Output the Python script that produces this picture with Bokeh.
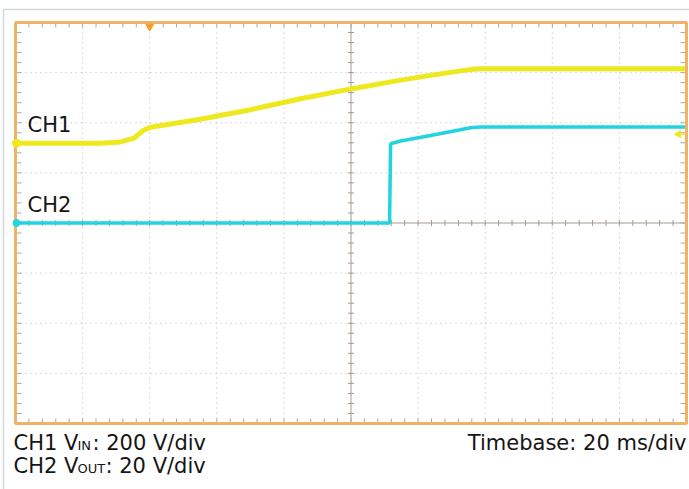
import numpy as np
from bokeh.plotting import figure
from bokeh.models import Label, Range1d
from bokeh.embed import file_html
from bokeh.resources import INLINE

# ---- data read from the scope capture ----
ch1_time_ms = [0, 25.3, 31.3, 35.2, 38.2, 40.2, 55.1, 70.0, 85.0, 100.4, 114.8, 123.7, 132.6, 135.6, 138.6, 200]
ch1_volts = [0, 0, 5.6, 20, 52, 64, 96, 134, 178, 218, 252, 271, 289, 294, 297, 297]
ch2_time_ms = [0, 111.5, 111.8, 114.8, 123.7, 132.6, 135.6, 138.6, 200]
ch2_volts = [0, 0, 31.6, 32.7, 34.9, 37.2, 38.0, 38.3, 38.3]

ch1_v_per_div = 200
ch2_v_per_div = 20
timebase_ms_per_div = 20
n_xdiv = 10
n_ydiv = 8
ch1_offset_div = 1.59
ch2_offset_div = 0.0
trigger_time_ms = 40
trigger_level_v = 36

YELLOW = "#eee81e"
CYAN = "#22d3e2"
ORANGE = "#efb367"
FONT = "DejaVu Sans"

# ---- canvas geometry (px) ----
W, H = 689, 489
SC_L, SC_R, SC_T, SC_B = 15, 686, 22, 423  # graticule box inside canvas
t_end = timebase_ms_per_div * n_xdiv
ppx = (SC_R - SC_L) / t_end          # px per ms
ppy = (SC_B - SC_T) / n_ydiv         # px per div
x0 = -SC_L / ppx
x1 = t_end + (W - SC_R) / ppx
y1 = n_ydiv / 2 + SC_T / ppy
y0 = -n_ydiv / 2 - (H - SC_B) / ppy

def cx(px_):
    return x0 + px_ / ppx

def cy(py_):
    return y1 - py_ / ppy

ch1_y = [ch1_offset_div + v / ch1_v_per_div for v in ch1_volts]
ch2_y = [ch2_offset_div + v / ch2_v_per_div for v in ch2_volts]

p = figure(width=W, height=H, x_range=Range1d(x0, x1), y_range=Range1d(y0, y1),
           output_backend="svg", toolbar_location=None,
           x_axis_location=None, y_axis_location=None, min_border=0)
p.min_border_left = p.min_border_right = p.min_border_top = p.min_border_bottom = 0
for g in p.grid:
    g.visible = False
p.outline_line_color = None
p.background_fill_color = "white"
p.border_fill_color = "white"

# bezel line
p.segment(x0=[cx(3), cx(3)], y0=[cy(9), cy(9)], x1=[cx(3), x1], y1=[y0, cy(9)],
          line_color="#cfd7df", line_width=1.5)

# dotted graticule
major_x = [timebase_ms_per_div * i for i in range(1, n_xdiv) if i != n_xdiv // 2]
major_y = [i for i in range(-n_ydiv // 2 + 1, n_ydiv // 2) if i != 0]
p.segment(x0=major_x, y0=-4, x1=major_x, y1=4, line_color="#b5b5b5", line_width=1, line_dash="1 4")
p.segment(x0=0, y0=major_y, x1=t_end, y1=major_y, line_color="#b5b5b5", line_width=1, line_dash="1 4")

# center cross with minor ticks
TICK = "#a39a92"
p.segment(x0=[t_end / 2, 0], y0=[-4, 0], x1=[t_end / 2, t_end], y1=[4, 0], line_color=TICK, line_width=1)
minor_x = np.arange(0, t_end + 0.01, timebase_ms_per_div / 5)
minor_y = np.arange(-4, 4.01, 0.2)
p.segment(x0=minor_x, y0=-3 / ppy, x1=minor_x, y1=3 / ppy, line_color=TICK)
p.segment(x0=t_end / 2 - 3 / ppx, y0=minor_y, x1=t_end / 2 + 3 / ppx, y1=minor_y, line_color=TICK)
# border ticks
p.segment(x0=minor_x, y0=4, x1=minor_x, y1=4 - 5 / ppy, line_color="#a8a8a8")
p.segment(x0=minor_x, y0=-4, x1=minor_x, y1=-4 + 5 / ppy, line_color="#a8a8a8")
p.segment(x0=0, y0=minor_y, x1=6 / ppx, y1=minor_y, line_color="#a8a8a8")
p.segment(x0=t_end, y0=minor_y, x1=t_end - 6 / ppx, y1=minor_y, line_color="#a8a8a8")

# traces
p.line(ch2_time_ms, ch2_y, line_color=CYAN, line_width=3.5)
p.line(ch1_time_ms, ch1_y, line_color=YELLOW, line_width=5)

# graticule frame
p.quad(left=[0], right=[t_end], bottom=[-4], top=[4], fill_color=None,
       line_color=ORANGE, line_width=3)

# markers
p.scatter(x=[1 / ppx], y=[ch1_offset_div], marker="circle", size=8, color=YELLOW)
p.scatter(x=[1 / ppx], y=[ch2_offset_div], marker="circle", size=7, color=CYAN)
p.scatter(x=[trigger_time_ms], y=[4 - 4 / ppy], marker="inverted_triangle", size=8, color="#f59c25")
lvl = ch1_offset_div + trigger_level_v / ch1_v_per_div
p.segment(x0=[t_end - 7 / ppx], y0=[lvl], x1=[t_end - 1 / ppx], y1=[lvl], line_color=YELLOW, line_width=1.5)
p.scatter(x=[t_end - 8 / ppx], y=[lvl], marker="triangle", angle=np.pi / 2, size=7, color=YELLOW)

def lab(px_, py_, text, size="21px", align="left"):
    p.add_layout(Label(x=cx(px_), y=cy(py_ - 7), text=text,
                       text_font=FONT, text_font_size=size, text_color="#151515",
                       text_align=align, text_baseline="alphabetic"))

lab(27, 131, "CH1")
lab(27, 211, "CH2")
lab(13, 449, "CH1 V")
lab(77, 452, "IN", "13px")
lab(92, 449, ": 200 V/div")
lab(13, 472, "CH2 V")
lab(77, 475, "OUT", "13px")
lab(105, 472, ": 20 V/div")
lab(686, 449, "Timebase: 20 ms/div", align="right")

open("out.html", "w").write(file_html(p, INLINE))
